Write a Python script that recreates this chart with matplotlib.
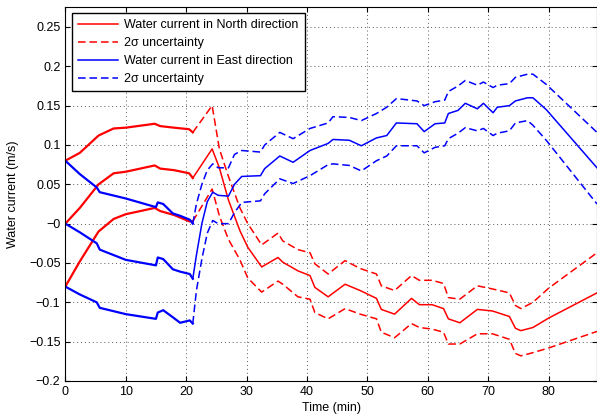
import numpy as np
import matplotlib
matplotlib.use('Agg')
from matplotlib import pyplot as plt
from matplotlib.ticker import FuncFormatter

plt.rcParams['font.family'] = ['Liberation Sans', 'DejaVu Sans']

# North component (red)
t_north = [0, 2.4, 5.5, 8, 10, 14.8, 15.7, 18, 20.5, 21.1, 24.3, 25.5, 27, 28.9,
           30.2, 32.5, 35.2, 36, 38.5, 40.5, 41.3, 43.5, 46.3, 48.8, 51.5, 52.3,
           54.5, 57.3, 58.6, 60.7, 62.6, 63.4, 65.3, 68.2, 70.7, 73.5, 74.5, 75.4,
           77.4, 80, 88]
north_mean = [0, 0.02, 0.05, 0.064, 0.066, 0.074, 0.07, 0.068, 0.064, 0.058, 0.095,
              0.071, 0.03, -0.009, -0.03, -0.055, -0.043, -0.049, -0.06, -0.066,
              -0.081, -0.093, -0.077, -0.085, -0.095, -0.109, -0.115, -0.095, -0.103,
              -0.103, -0.108, -0.121, -0.126, -0.109, -0.111, -0.118, -0.133, -0.136,
              -0.132, -0.12, -0.088]
north_up = [0.08, 0.09, 0.112, 0.121, 0.122, 0.127, 0.124, 0.122, 0.12, 0.116, 0.15,
            0.095, 0.06, 0.02, 0.0, -0.027, -0.012, -0.022, -0.033, -0.037, -0.051,
            -0.064, -0.047, -0.057, -0.064, -0.079, -0.085, -0.066, -0.072, -0.072,
            -0.076, -0.094, -0.096, -0.079, -0.083, -0.088, -0.104, -0.108, -0.1,
            -0.082, -0.037]
north_lo = [-0.08, -0.048, -0.01, 0.006, 0.012, 0.02, 0.016, 0.011, 0.003, 0.003,
            0.044, 0.01, -0.02, -0.046, -0.069, -0.087, -0.073, -0.077, -0.093,
            -0.096, -0.113, -0.121, -0.108, -0.115, -0.121, -0.138, -0.145, -0.127,
            -0.132, -0.134, -0.138, -0.153, -0.153, -0.14, -0.14, -0.147, -0.165,
            -0.168, -0.164, -0.158, -0.137]

# East component (blue)
t_east = [0, 2.4, 5.2, 5.7, 10, 15, 15.3, 16.2, 17.8, 19, 20.6, 21.1, 21.7, 22.6,
          23.5, 24.4, 25.3, 27, 28, 29.2, 32.3, 33, 35.5, 37.7, 40.5, 43.5, 44.3,
          47, 49, 51.5, 53.2, 54.8, 58.2, 59.4, 61.2, 62.8, 63.4, 65, 66.2, 68.2,
          69.2, 70.8, 71.5, 73.5, 74.5, 76.5, 77.4, 79.6, 88]
east_mean = [0, -0.011, -0.025, -0.033, -0.046, -0.053, -0.043, -0.045, -0.058,
             -0.061, -0.064, -0.07, -0.04, 0.0, 0.028, 0.04, 0.036, 0.035, 0.05,
             0.06, 0.061, 0.07, 0.086, 0.078, 0.093, 0.102, 0.107, 0.106, 0.099,
             0.109, 0.112, 0.128, 0.127, 0.117, 0.127, 0.128, 0.14, 0.144, 0.153,
             0.146, 0.153, 0.141, 0.148, 0.15, 0.156, 0.16, 0.16, 0.145, 0.071]
east_up = [0.08, 0.063, 0.046, 0.04, 0.032, 0.021, 0.027, 0.025, 0.013, 0.01, 0.005,
           0.0, 0.025, 0.05, 0.068, 0.076, 0.071, 0.071, 0.088, 0.093, 0.091, 0.1,
           0.116, 0.108, 0.121, 0.128, 0.136, 0.135, 0.131, 0.14, 0.148, 0.159,
           0.156, 0.15, 0.155, 0.157, 0.168, 0.175, 0.182, 0.176, 0.18, 0.173,
           0.176, 0.178, 0.186, 0.19, 0.19, 0.177, 0.116]
east_lo = [-0.08, -0.09, -0.1, -0.107, -0.115, -0.121, -0.113, -0.11, -0.119, -0.126,
           -0.123, -0.127, -0.085, -0.045, -0.012, 0.004, 0.0, 0.0, 0.014, 0.027,
           0.029, 0.038, 0.057, 0.051, 0.061, 0.075, 0.076, 0.074, 0.067, 0.08,
           0.086, 0.099, 0.099, 0.09, 0.097, 0.099, 0.108, 0.115, 0.122, 0.118,
           0.121, 0.112, 0.115, 0.118, 0.128, 0.131, 0.125, 0.106, 0.025]

t_gap = 21.1  # before this the bounds are densely sampled and look solid

if __name__ == '__main__':
    fig = plt.figure(figsize=(5.97, 4.19), dpi=100)
    ax = fig.add_axes([0.1094, 0.0907, 0.8906, 0.8926])

    dash = (5, 2.5)
    for t, m, up, lo, c, name in [(t_north, north_mean, north_up, north_lo, 'r', 'North'),
                                  (t_east, east_mean, east_up, east_lo, 'b', 'East')]:
        t = np.array(t)
        m, up, lo = np.array(m), np.array(up), np.array(lo)
        k = np.searchsorted(t, t_gap) + 1
        ax.plot(t[k - 1:], m[k - 1:], '-', color=c, lw=1.1,
                label='Water current in %s direction' % name)
        ax.plot(t[k - 1:], up[k - 1:], '--', color=c, lw=1.1, dashes=dash,
                label='2\u03c3 uncertainty')
        ax.plot(t[k - 1:], lo[k - 1:], '--', color=c, lw=1.1, dashes=dash)
        # early part: noisy, dense data, drawn a bit heavier
        for y in (m, up, lo):
            ax.plot(t[:k], y[:k], '-', color=c, lw=1.6)

    ax.set_xlim(0, 88)
    ax.set_ylim(-0.2, 0.2754)
    ax.set_xticks(np.arange(0, 81, 10))
    ax.set_yticks(np.arange(-0.2, 0.251, 0.05))
    ax.yaxis.set_major_formatter(FuncFormatter(lambda v, p: ('%g' % round(v, 3)).replace('-', '\u2212')))
    ax.tick_params(direction='in', top=True, right=True, labelsize=9, length=3.5, width=0.8)
    ax.grid(True, linestyle=(0, (1, 3)), color='0.35', lw=0.7)
    ax.set_xlabel('Time (min)', fontsize=9, labelpad=3)
    ax.set_ylabel('Water current (m/s)', fontsize=9, labelpad=7)

    leg = ax.legend(loc='upper left', bbox_to_anchor=(0.0126, 0.984), borderaxespad=0,
                    fontsize=9, handlelength=3.2, labelspacing=0.48, handletextpad=0.45,
                    borderpad=0.5, fancybox=False, framealpha=1, edgecolor='k')
    leg.get_frame().set_linewidth(1.0)

    plt.savefig('out.png', dpi=100)
